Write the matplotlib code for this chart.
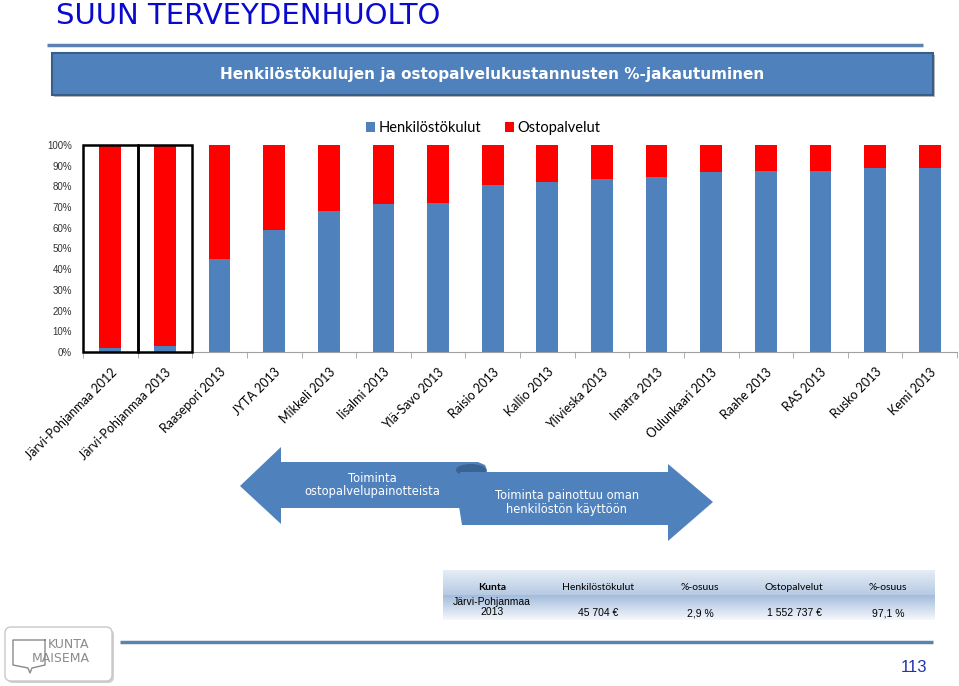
import numpy as np
import matplotlib
matplotlib.use('Agg')
import matplotlib.pyplot as plt
import matplotlib.transforms as mtransforms
from matplotlib.patches import Rectangle, Polygon, Ellipse, FancyBboxPatch
from matplotlib.colors import LinearSegmentedColormap
from matplotlib.ticker import FuncFormatter

# ---------------------------------------------------------------------------- #
#                                     DATA                                     #
# ---------------------------------------------------------------------------- #
kunnat = ['Järvi-Pohjanmaa 2012', 'Järvi-Pohjanmaa 2013', 'Raasepori 2013',
          'JYTA 2013', 'Mikkeli 2013', 'Iisalmi 2013', 'Ylä-Savo 2013',
          'Raisio 2013', 'Kallio 2013', 'Ylivieska 2013', 'Imatra 2013',
          'Oulunkaari 2013', 'Raahe 2013', 'RAS 2013', 'Rusko 2013', 'Kemi 2013']
henkilosto = np.array([1.9, 2.9, 44.7, 58.7, 68.2, 71.5, 71.9, 80.5,
                       82.3, 83.7, 84.7, 87.1, 87.3, 87.6, 88.7, 89.0])
ostopalvelut = 100 - henkilosto
korostetut = [0, 1]   # boxed categories

taulukko_otsikot = ['Kunta', 'Henkilöstökulut', '%-osuus', 'Ostopalvelut', '%-osuus']
taulukko_rivi = ['Järvi-Pohjanmaa\n2013', '45 704 €', '2,9 %', '1 552 737 €', '97,1 %']

BLUE = '#4F81BD'
RED = '#FF0000'
W, H = 959, 686

# ---------------------------------------------------------------------------- #
#                                    FIGURE                                    #
# ---------------------------------------------------------------------------- #
fig = plt.figure(figsize=(W/100, H/100), dpi=100)

# decoration layer in pixel coordinates
deco = fig.add_axes([0, 0, 1, 1], zorder=0)
deco.axis('off')

# page title and header banner
deco.text(56, 16, 'SUUN TERVEYDENHUOLTO', fontsize=21, color='#0A0ACF',
          family='DejaVu Sans', va='center', ha='left')
deco.plot([47, 923], [45, 45], color='#5B82B0', lw=2.5, solid_capstyle='butt')
deco.add_patch(Rectangle((54, 55), 881, 42, color='#8A8A8A', alpha=0.6, lw=0))
deco.add_patch(Rectangle((52, 53), 881, 42, facecolor=BLUE, edgecolor='#395D8A', lw=1.5))
deco.text(492, 74.5, 'Henkilöstökulujen ja ostopalvelukustannusten %-jakautuminen',
          color='white', fontsize=11, fontweight='bold', family='DejaVu Sans',
          ha='center', va='center')

# arrows
vasen = [(240, 486), (281, 447), (281, 462), (478, 462), (485, 465),
         (487, 470), (487, 508), (281, 508), (281, 524)]
deco.add_patch(Polygon(vasen, closed=True, color=BLUE, lw=0))
deco.add_patch(Ellipse((471, 470), 30, 12, color='#3A6293', lw=0))
oikea = [(460, 472), (668, 472), (668, 464), (713, 502), (668, 541),
         (668, 525), (462, 525), (458, 500)]
deco.add_patch(Polygon(oikea, closed=True, color=BLUE, lw=0))
deco.text(372, 485, 'Toiminta\nostopalvelupainotteista', color='white',
          fontsize=8.3, ha='center', va='center', linespacing=1.1)
deco.text(567, 502, 'Toiminta painottuu oman\nhenkilöstön käyttöön', color='white',
          fontsize=8.3, ha='center', va='center', linespacing=1.1)

# table
grad = np.linspace(0, 1, 64).reshape(-1, 1)
cm_head = LinearSegmentedColormap.from_list('h', ['#E6EDF6', '#B6CAE3'])
cm_row = LinearSegmentedColormap.from_list('r', ['#A3BCDC', '#F6F8FC'])
deco.imshow(grad, cmap=cm_head, aspect='auto', extent=[443, 935, 595, 570], zorder=1)
deco.imshow(grad, cmap=cm_row, aspect='auto', extent=[443, 935, 620, 595], zorder=1)
sarakkeet = [492, 598, 700, 794, 888]
for i, (x, t) in enumerate(zip(sarakkeet, taulukko_otsikot)):
    deco.text(x, 587, t, fontsize=7.5, family='Lato', ha='center', va='center',
              fontweight='bold' if i == 0 else 'normal', zorder=2)
for x, t in zip(sarakkeet, taulukko_rivi):
    deco.text(x, 607 if '\n' in t else 613.5, t, fontsize=7.5, family='Liberation Sans',
              ha='center', va='center', linespacing=1.05, zorder=2)

# footer: logo, line and page number
deco.plot([120, 933], [642, 642], color='#5B82B0', lw=2.5, solid_capstyle='butt')
deco.add_patch(FancyBboxPatch((7, 629), 107, 54, boxstyle='round,pad=0,rounding_size=6',
                              facecolor='#D0D0D0', edgecolor='none'))
deco.add_patch(FancyBboxPatch((5, 627), 107, 54, boxstyle='round,pad=0,rounding_size=6',
                              facecolor='white', edgecolor='#C8C8C8', lw=1))
deco.plot([45, 13, 13, 28, 30, 32, 45, 45], [640, 640, 665, 668, 673, 668, 665, 640],
          color='#8A8A8A', lw=1)
deco.text(48, 645, 'KUNTA', fontsize=9, color='#8A8A8A', va='center', ha='left')
deco.text(32, 659, 'MAISEMA', fontsize=9, color='#8A8A8A', va='center', ha='left')
deco.text(914, 667, '113', fontsize=12, color='#2233AA', family='Liberation Sans',
          ha='center', va='center')

deco.set_xlim(0, W)
deco.set_ylim(H, 0)

# ---------------------------------------------------------------------------- #
#                                     CHART                                    #
# ---------------------------------------------------------------------------- #
ax = fig.add_axes([83/W, (H-352)/H, 874/W, 207/H], zorder=2)
ax.set_facecolor('none')
x = np.arange(len(kunnat))
ax.bar(x, henkilosto, width=0.4, color=BLUE, label='Henkilöstökulut', zorder=2)
ax.bar(x, ostopalvelut, bottom=henkilosto, width=0.4, color=RED,
       label='Ostopalvelut', zorder=2)

ax.set_xlim(-0.5, len(kunnat)-0.5)
ax.set_ylim(0, 100)
ax.set_yticks(np.arange(0, 101, 10))
ax.yaxis.set_major_formatter(FuncFormatter(lambda v, p: f'{v:.0f}%'))
ax.tick_params(axis='y', length=0, labelsize=7, labelcolor='#333333', pad=8)
for lab in ax.get_yticklabels():
    lab.set_family('Liberation Sans')

ax.set_xticks(x)
ax.set_xticklabels(kunnat, rotation=45, ha='right', rotation_mode='anchor',
                   fontsize=9, family='Lato')
shift = mtransforms.ScaledTranslation(-4/100, 0, fig.dpi_scale_trans)
for lab in ax.get_xticklabels():
    lab.set_transform(lab.get_transform() + shift)
ax.set_xticks(np.arange(-0.5, len(kunnat)), minor=True)
ax.tick_params(axis='x', which='major', length=0, pad=10)
ax.tick_params(axis='x', which='minor', length=4, color='#A0A0A0', direction='out')

for s in ['top', 'right', 'left']:
    ax.spines[s].set_visible(False)
ax.spines['bottom'].set_color('#A0A0A0')

for i in korostetut:
    ax.add_patch(Rectangle((i-0.5, 0), 1, 100, fill=False, edgecolor='black',
                           lw=1.8, clip_on=False, zorder=5))

leg = ax.legend(loc='center', bbox_to_anchor=(0.458, 1.082), ncol=2, frameon=False,
                handlelength=0.6, handleheight=0.6, handletextpad=0.25,
                columnspacing=1.6, prop={'family': 'Lato', 'size': 10.5})

plt.savefig('out.png', dpi=100)
plt.close('all')
